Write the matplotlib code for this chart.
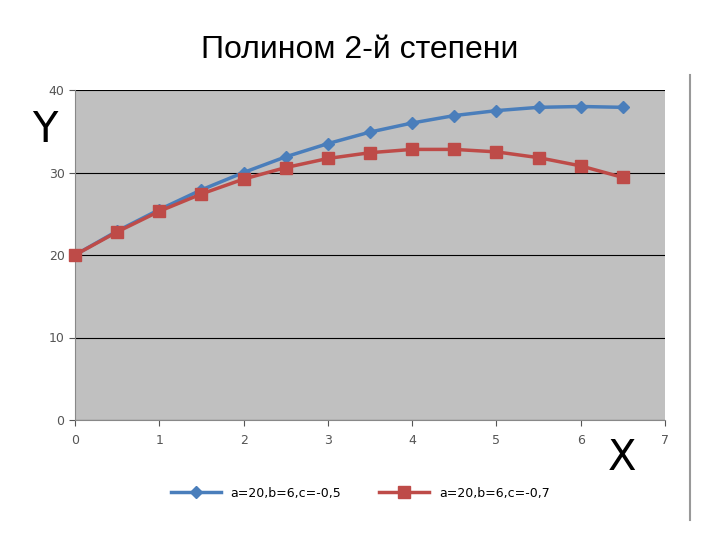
import matplotlib
matplotlib.use("Agg")
import matplotlib.pyplot as plt
from matplotlib.lines import Line2D

x = [0, 0.5, 1, 1.5, 2, 2.5, 3, 3.5, 4, 4.5, 5, 5.5, 6, 6.5]
blue = [20, 22.9, 25.5, 27.9, 30, 31.9, 33.5, 34.9, 36, 36.9, 37.5, 37.9, 38, 37.9]
red = [20, 22.8, 25.3, 27.4, 29.2, 30.6, 31.7, 32.4, 32.8, 32.8, 32.5, 31.8, 30.8, 29.4]
labels = ["a=20,b=6,c=-0,5", "a=20,b=6,c=-0,7"]

fig = plt.figure(figsize=(7.2, 5.4), dpi=100)
fig.text(0.5, 1-50/540, "Полином 2-й степени", ha="center", va="center", fontsize=23, family="Liberation Sans")
ax = fig.add_axes([75/720, 1-420/540, 590/720, 330/540])
ax.set_facecolor("#c0c0c0")
ax.plot(x, blue, color="#4a7ebb", lw=2.5, marker="D", ms=6, label=labels[0], zorder=3, clip_on=False)
ax.plot(x, red, color="#be4b48", lw=2.5, marker="s", ms=9, label=labels[1], zorder=4, clip_on=False)
ax.set_xlim(0, 7); ax.set_ylim(0, 40)
ax.set_xticks(range(8)); ax.set_yticks([0, 10, 20, 30, 40])
ax.grid(axis="y", color="black", lw=0.8)
for s in ["top", "right"]:
    ax.spines[s].set_visible(False)
for s in ["left", "bottom"]:
    ax.spines[s].set_color("#888888")
ax.tick_params(labelsize=9, colors="#555555", length=4, direction="out")
ax.tick_params(axis="x", pad=6)
fig.text(45/720, 1-130/540, "Y", fontsize=30, va="center", ha="center")
fig.text(622/720, 1-458/540, "X", fontsize=30, va="center", ha="center")
fig.legend(loc="center", bbox_to_anchor=(0.5, 1-493/540), ncol=2, frameon=False, fontsize=9,
           handlelength=4, columnspacing=3)
fig.add_artist(Line2D([690/720, 690/720], [1-75/540, 1-520/540], color="#999999", lw=1.5))
fig.savefig("out.png")
